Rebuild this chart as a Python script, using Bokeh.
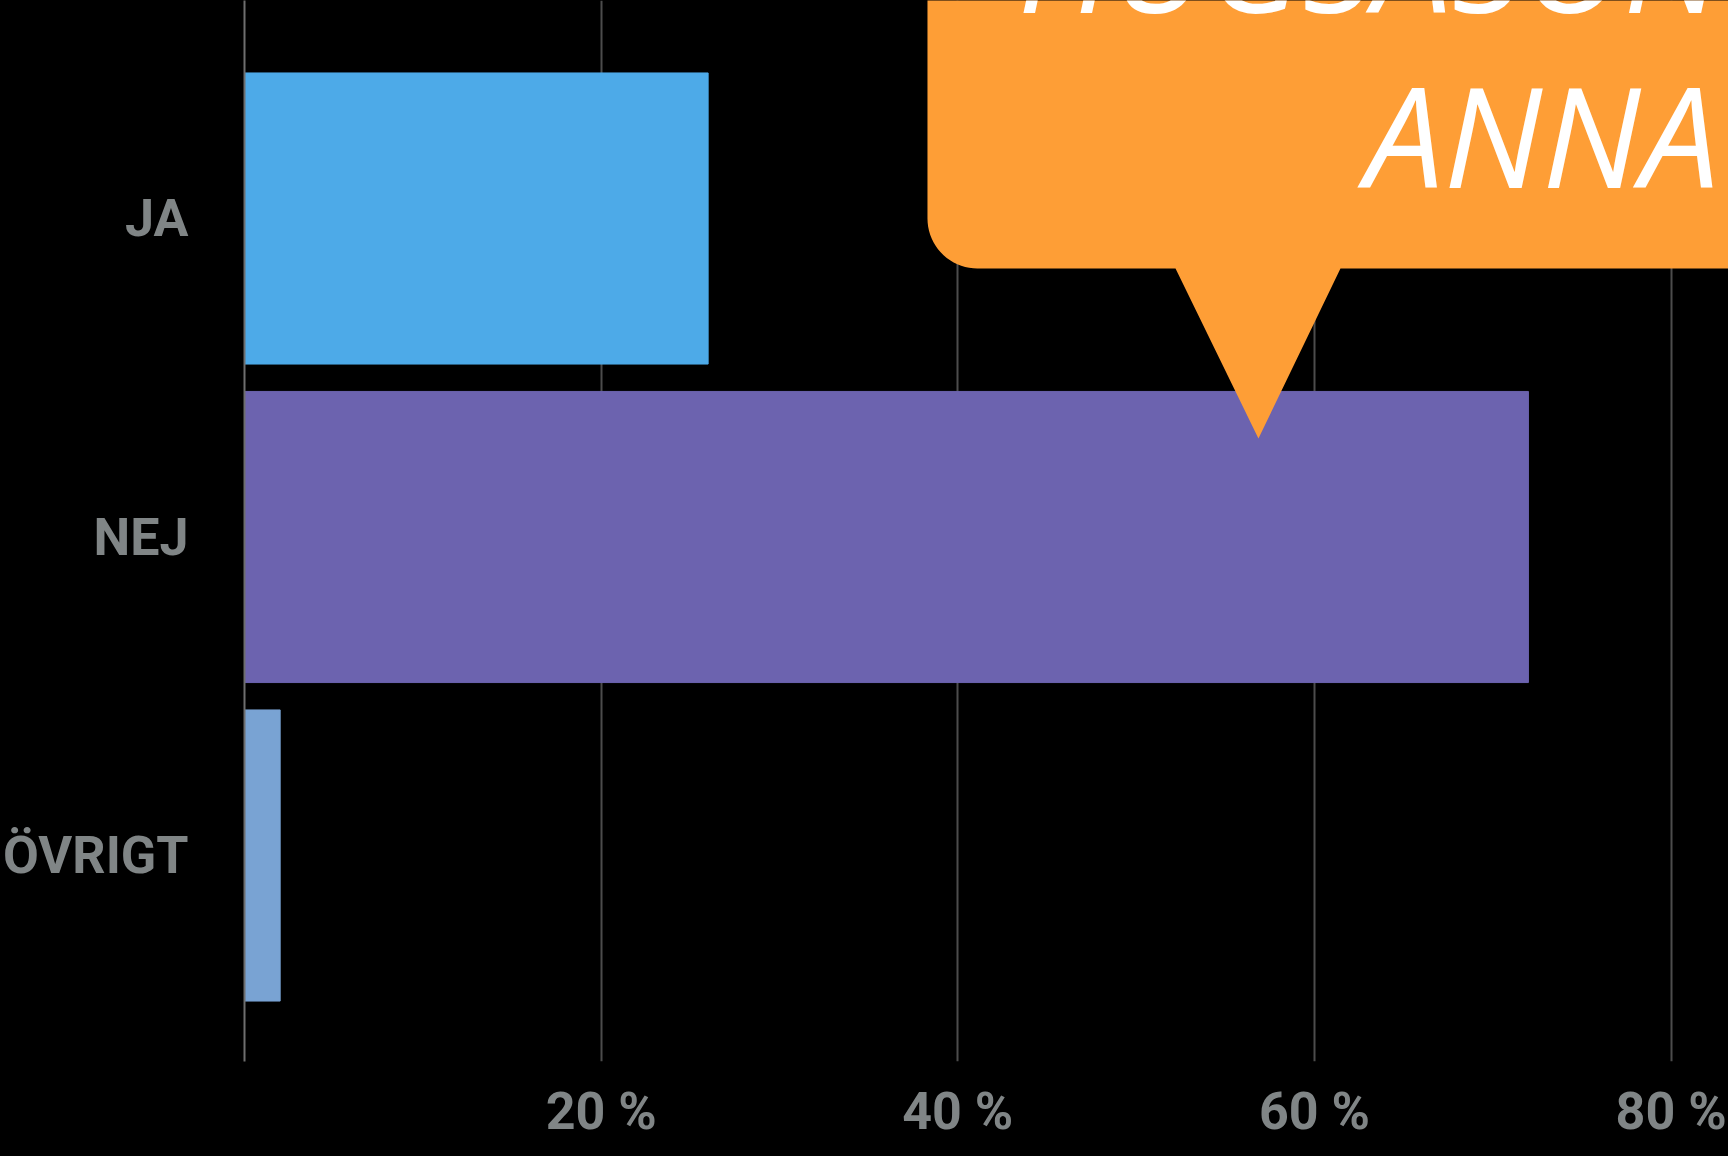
import numpy as np
from bokeh.plotting import figure
from bokeh.models import Range1d, FixedTicker, ColumnDataSource
from bokeh.core.properties import value
from bokeh.embed import file_html
from bokeh.resources import INLINE

# ---- data ----
categories = ["JA", "NEJ", "ÖVRIGT"]
shares = [26, 72, 2]
bar_colors = ["#4DAAE8", "#6C63AF", "#79A3D3"]
x_tick_values = [20, 40, 60, 80]
x_tick_labels = ["20 %", "40 %", "60 %", "80 %"]
bubble_lines = ["HUGSASON", "ANNA"]

LABEL_FONT = "Roboto"
GREY = "#808586"

# category slots, first category on top
n = len(categories)
cat_pos = [n - 1 - i for i in range(n)]

p = figure(width=1728, height=1156, output_backend="svg", toolbar_location=None,
           y_range=Range1d(-0.6468, 2.6845),
           x_range=Range1d(0, 83.22),
           min_border_left=244, min_border_right=0, min_border_top=0, min_border_bottom=95)
p.background_fill_color = "black"
p.border_fill_color = "black"
p.outline_line_color = None

src = ColumnDataSource(dict(pos=cat_pos, val=shares, color=bar_colors))
p.hbar(y="pos", left=0, right="val", height=0.914, color="color", source=src)

# x axis
p.xaxis.ticker = FixedTicker(ticks=x_tick_values)
p.xaxis.major_label_overrides = {v: l for v, l in zip(x_tick_values, x_tick_labels)}
p.xaxis.axis_line_color = None
p.xaxis.major_tick_line_color = None
p.xaxis.minor_tick_line_color = None
p.xaxis.major_label_standoff = 13
p.xaxis.major_label_text_font = LABEL_FONT
p.xaxis.major_label_text_font_style = "bold"
p.xaxis.major_label_text_font_size = "52px"
p.xaxis.major_label_text_color = GREY

# y axis (categories as tick labels)
p.yaxis.ticker = FixedTicker(ticks=cat_pos)
p.yaxis.major_label_overrides = {pos: c for pos, c in zip(cat_pos, categories)}
p.yaxis.axis_line_color = "#6E6E6E"
p.yaxis.axis_line_width = 2
p.yaxis.major_tick_line_color = None
p.yaxis.minor_tick_line_color = None
p.yaxis.major_label_standoff = 50
p.yaxis.major_label_text_font = LABEL_FONT
p.yaxis.major_label_text_font_style = "bold"
p.yaxis.major_label_text_font_size = "52px"
p.yaxis.major_label_text_color = GREY

p.xgrid.ticker = FixedTicker(ticks=x_tick_values)
p.xgrid.grid_line_color = "#4C4C4C"
p.xgrid.grid_line_width = 2
p.ygrid.grid_line_color = None

# ---- speech bubble (annotation decoration) ----
bx0, byb, rx, ry = 38.30, 1.8431, 2.8, 0.157
tri_l, tri_tip_x, tri_tip_y, tri_r = 52.21, 56.86, 1.3093, 61.46
t = np.linspace(np.pi, 1.5 * np.pi, 20)
arc_x = list(bx0 + rx + rx * np.cos(t))
arc_y = list(byb + ry + ry * np.sin(t))
xs = [bx0] + arc_x + [tri_l, tri_tip_x, tri_r, 100, 100]
ys = [5] + arc_y + [byb, tri_tip_y, byb, byb, 5]
p.patch(xs, ys, color="#FE9E36", line_color=None)

p.text(x=[43.35], y=[2.8164], text=[bubble_lines[0]], text_color="white",
       text_font=value("Open Sans"), text_font_style="italic",
       text_font_size=value("140px"), text_align="left", text_baseline="alphabetic")
p.text(x=[82.70], y=[2.2669], text=[bubble_lines[1]], text_color="white",
       text_font=value("Open Sans"), text_font_style="italic",
       text_font_size=value("140px"), text_align="right", text_baseline="alphabetic")

html = file_html(p, INLINE)
html = html.replace("</head>", "<style>html,body{background:#000;}</style></head>", 1)
open("out.html", "w").write(html)
